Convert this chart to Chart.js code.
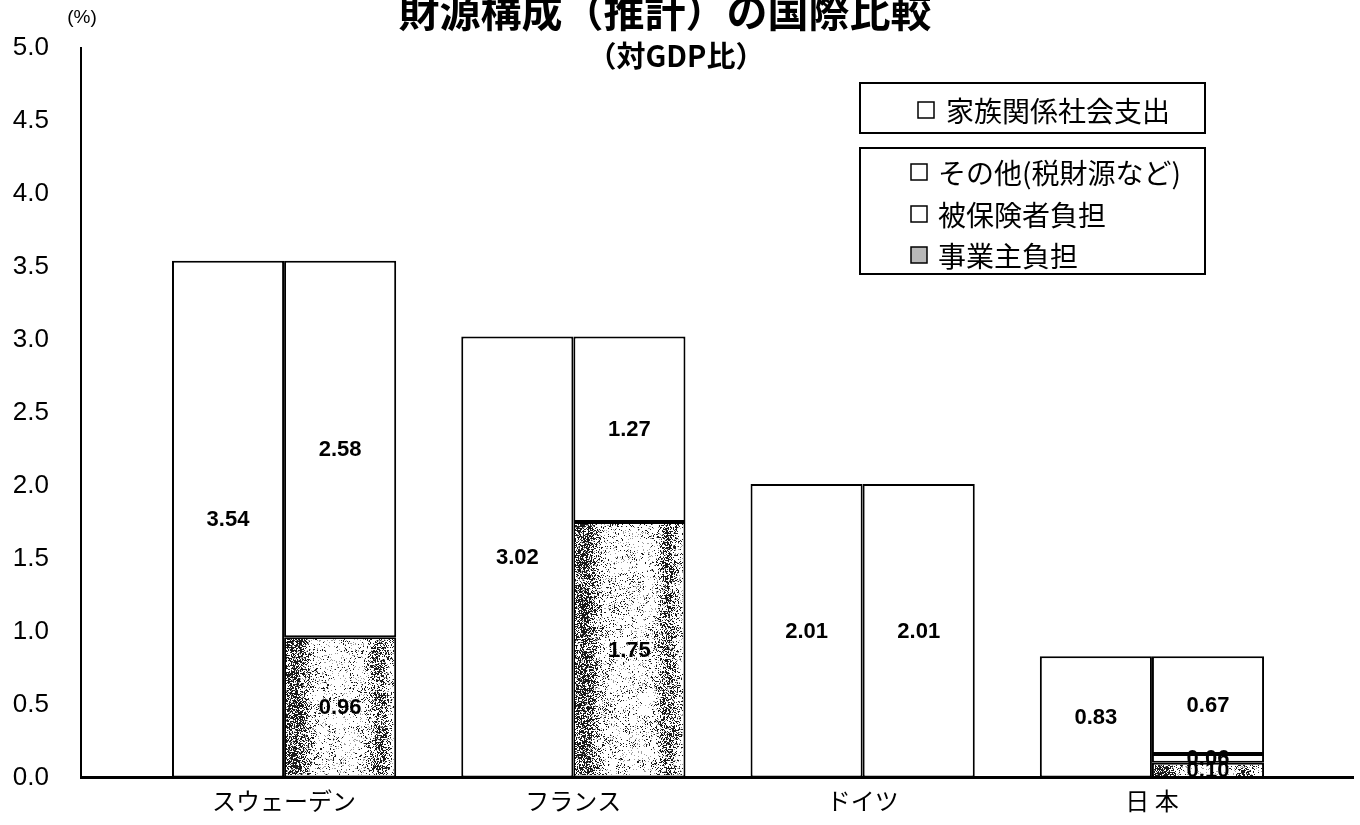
<!DOCTYPE html>
<html lang="ja">
<head>
<meta charset="utf-8">
<title>財源構成（推計）の国際比較</title>
<script src="https://cdn.jsdelivr.net/npm/chart.js@4.4.1/dist/chart.umd.min.js"></script>
<style>
  html, body { margin: 0; padding: 0; background: #fff; }
</style>
</head>
<body>
<canvas id="myChart" width="1360" height="825"></canvas>
<script>
// data (% of GDP)
const countries = ["スウェーデン", "フランス", "ドイツ", "日 本"];
const familySpending = [3.54, 3.02, 2.01, 0.83];   // 家族関係社会支出
const employerShare = [0.96, 1.75, 0, 0.10];       // 事業主負担
const insuredShare = [0, 0, 0, 0.06];              // 被保険者負担
const otherShare = [2.58, 1.27, 2.01, 0.67];       // その他(税財源など)

const titleText = "財源構成（推計）の国際比較";
const subtitleText = "（対GDP比）";
const unitText = "(%)";

const jpFont = "'Noto Sans CJK JP', 'Noto Sans', sans-serif";
const numFont = "'Liberation Sans', Arial, sans-serif";

const toPoints = (arr) => arr.map((v, i) => ({ x: i, y: v }));

// cheap deterministic hash for the grainy fill of 事業主負担
function grain(x, y) {
  const s = Math.sin(x * 12.9898 + y * 78.233) * 43758.5453;
  return s - Math.floor(s);
}

function paintGrain(ctx, x0, y0, w, h) {
  x0 = Math.round(x0); y0 = Math.round(y0);
  w = Math.round(w); h = Math.round(h);
  if (w <= 0 || h <= 0) return;
  const img = ctx.getImageData(x0, y0, w, h);
  const d = img.data;
  for (let j = 0; j < h; j++) {
    for (let i = 0; i < w; i++) {
      const t = i / w;
      const blot = grain(Math.floor((x0 + i) / 7), Math.floor((y0 + j) / 11));
      const dens = 0.06 + 0.55 * Math.exp(-Math.pow((t - 0.08) / 0.13, 2))
                        + 0.4 * Math.exp(-Math.pow((t - 0.86) / 0.09, 2))
                        + 0.2 * (blot - 0.5);
      const n = grain(x0 + i, y0 + j);
      const k = (j * w + i) * 4;
      let v = 255;
      if (n < dens) v = 25;
      else if (n < dens + 0.08) v = 160;
      d[k] = v; d[k + 1] = v; d[k + 2] = v; d[k + 3] = 255;
    }
  }
  ctx.putImageData(img, x0, y0);
}

const grainPlugin = {
  id: "grain",
  afterDatasetDraw(chart, args) {
    const ds = chart.data.datasets[args.index];
    if (!ds.grainy) return;
    const bw = ds.borderWidth;
    args.meta.data.forEach((el) => {
      const p = el.getProps(["x", "y", "base", "width"], true);
      const h = p.base - p.y;
      if (h <= bw * 2) return;
      paintGrain(chart.ctx, p.x - p.width / 2 + bw, p.y + bw, p.width - bw * 2, h - bw * 2);
    });
  }
};

const valueLabels = {
  id: "valueLabels",
  afterDatasetsDraw(chart) {
    const ctx = chart.ctx;
    ctx.save();
    ctx.font = "bold 22px " + numFont;
    ctx.fillStyle = "#000";
    ctx.textAlign = "center";
    ctx.textBaseline = "middle";
    chart.data.datasets.forEach((ds, di) => {
      const meta = chart.getDatasetMeta(di);
      meta.data.forEach((el, i) => {
        const v = ds.data[i].y;
        if (!v) return;
        const p = el.getProps(["x", "y", "base"], true);
        ctx.fillText(v.toFixed(2), p.x, (p.y + p.base) / 2 + 1);
      });
    });
    ctx.restore();
  }
};

const headings = {
  id: "headings",
  afterDraw(chart) {
    const ctx = chart.ctx;
    ctx.save();
    ctx.fillStyle = "#000";
    ctx.textAlign = "center";
    ctx.textBaseline = "alphabetic";
    ctx.font = "bold 41px " + jpFont;
    ctx.fillText(titleText, 665, 27);
    ctx.font = "bold 29px " + jpFont;
    ctx.fillText(subtitleText, 676, 67);
    ctx.font = "19px " + numFont;
    ctx.fillText(unitText, 82, 23);
    ctx.restore();
  }
};

// the two framed legend boxes
const boxLegend = {
  id: "boxLegend",
  afterDraw(chart, args, opts) {
    const ctx = chart.ctx;
    ctx.save();
    ctx.strokeStyle = "#000";
    ctx.lineWidth = 2;
    ctx.font = "28px " + jpFont;
    ctx.textBaseline = "middle";
    ctx.textAlign = "left";
    opts.boxes.forEach((box) => {
      ctx.strokeRect(box.x, box.y, box.w, box.h);
      box.rows.forEach((row) => {
        const ds = chart.data.datasets[row.index];
        ctx.fillStyle = ds.grainy ? "#b8b8b8" : "#fff";
        ctx.fillRect(box.markX, row.y - 8, 16, 16);
        ctx.lineWidth = 1.5;
        ctx.strokeRect(box.markX, row.y - 8, 16, 16);
        ctx.lineWidth = 2;
        ctx.fillStyle = "#000";
        ctx.fillText(ds.label, box.markX + box.gap, row.y + 1);
      });
    });
    ctx.restore();
  }
};

const barStyle = {
  backgroundColor: "#fff",
  borderColor: "#000",
  borderWidth: 2,
  borderSkipped: false,
  categoryPercentage: 0.775,
  barPercentage: 1.0
};

new Chart(document.getElementById("myChart").getContext("2d"), {
  type: "bar",
  data: {
    datasets: [
      { ...barStyle, label: "家族関係社会支出", stack: "total", data: toPoints(familySpending) },
      { ...barStyle, label: "事業主負担", stack: "source", data: toPoints(employerShare), grainy: true },
      { ...barStyle, label: "被保険者負担", stack: "source", data: toPoints(insuredShare) },
      { ...barStyle, label: "その他(税財源など)", stack: "source", data: toPoints(otherShare) }
    ]
  },
  options: {
    responsive: false,
    animation: false,
    layout: { padding: { top: 47, right: 7, left: 0, bottom: 0 } },
    plugins: {
      legend: { display: false },
      tooltip: { enabled: false },
      boxLegend: {
        boxes: [
          { x: 860, y: 83, w: 345, h: 50, markX: 918, gap: 28,
            rows: [{ index: 0, y: 110 }] },
          { x: 860, y: 148, w: 345, h: 126, markX: 911, gap: 27,
            rows: [{ index: 3, y: 172 }, { index: 2, y: 214 }, { index: 1, y: 255 }] }
        ]
      }
    },
    scales: {
      x: {
        type: "linear",
        stacked: true,
        offset: false,
        bounds: "data",
        min: -0.702,
        max: 3.695,
        afterBuildTicks: (scale) => { scale.ticks = countries.map((c, i) => ({ value: i })); },
        afterFit: (scale) => { scale.height = 45; },
        grid: { display: false, drawTicks: false, offset: false },
        border: { display: true, color: "#000", width: 3 },
        ticks: {
          autoSkip: false,
          maxRotation: 0,
          padding: 9,
          color: "#000",
          font: { family: jpFont, size: 24 },
          callback: (v) => countries[v]
        }
      },
      y: {
        stacked: true,
        min: 0,
        max: 5,
        afterFit: (scale) => { scale.width = 81; },
        grid: { display: false, drawTicks: false },
        border: { display: true, color: "#000", width: 2 },
        ticks: {
          stepSize: 0.5,
          padding: 32,
          color: "#000",
          font: { family: numFont, size: 26 },
          callback: (v) => v.toFixed(1)
        }
      }
    }
  },
  plugins: [grainPlugin, valueLabels, headings, boxLegend]
});
</script>
</body>
</html>
